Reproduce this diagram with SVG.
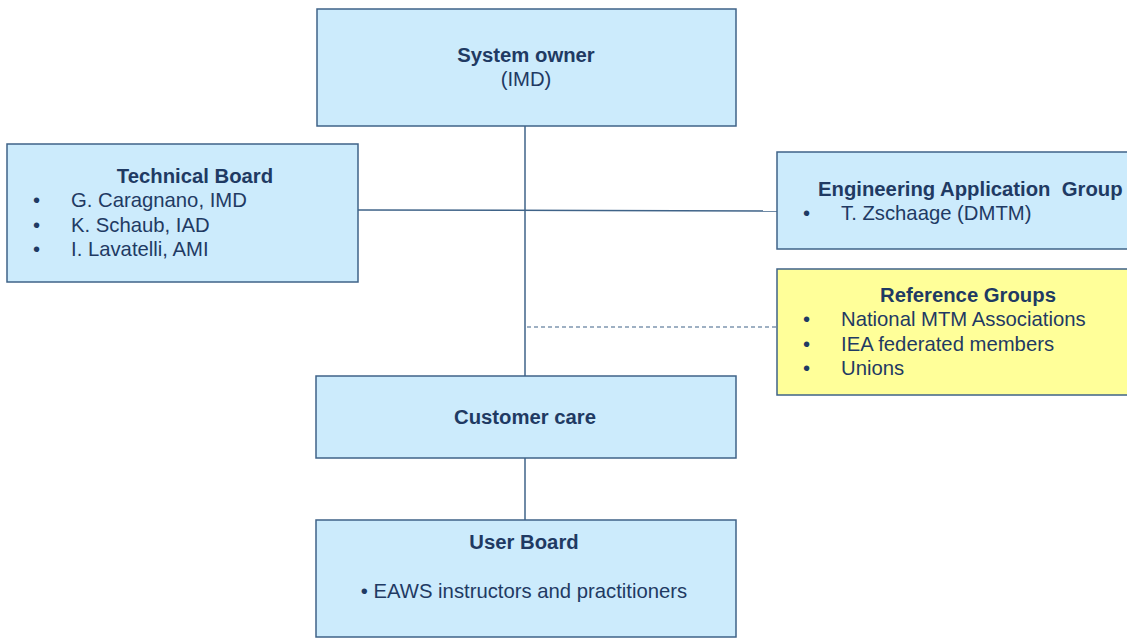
<svg xmlns="http://www.w3.org/2000/svg" width="1127" height="639" viewBox="0 0 1127 639">
<style>
.box{fill:#CCEBFC;stroke:#3F6388;stroke-width:1.5}
.yel{fill:#FFFF99;stroke:#3F6388;stroke-width:1.5}
.t{font-family:"Liberation Sans",Arial,sans-serif;font-size:20.3px;fill:#1F3A63}
.b{font-weight:bold}
.c{text-anchor:middle}
.ln{stroke:#3F6388;stroke-width:1.5;fill:none}
.dash{stroke:#3F6388;stroke-width:1.2;stroke-dasharray:4 3;fill:none}
</style>
<rect width="1127" height="639" fill="#ffffff"/>
<g id="connectors">
<line class="ln" x1="525" y1="126" x2="525" y2="376"/>
<line class="ln" x1="358" y1="210" x2="777" y2="211"/>
<line class="dash" x1="527" y1="327" x2="777" y2="327"/>
<line class="ln" x1="525" y1="458" x2="525" y2="520"/>
</g>
<g id="system-owner">
<rect class="box" x="317" y="9" width="419" height="117"/>
<text class="t b c" x="526" y="62">System owner</text>
<text class="t c" x="526" y="86">(IMD)</text>
</g>
<g id="technical-board">
<rect class="box" x="7" y="144" width="351" height="138"/>
<text class="t b c" x="195" y="183">Technical Board</text>
<text class="t" x="33" y="207">•</text><text class="t" x="71" y="207">G. Caragnano, IMD</text>
<text class="t" x="33" y="232">•</text><text class="t" x="71" y="232">K. Schaub, IAD</text>
<text class="t" x="33" y="256">•</text><text class="t" x="71" y="256">I. Lavatelli, AMI</text>
</g>
<g id="engineering-application-group">
<rect class="box" x="777" y="152" width="360" height="97"/>
<text class="t b" x="818" y="196" xml:space="preserve">Engineering Application  Group</text>
<text class="t" x="803" y="220">•</text><text class="t" x="841" y="220">T. Zschaage (DMTM)</text>
</g>
<g id="reference-groups">
<rect class="yel" x="777" y="269" width="360" height="126"/>
<text class="t b c" x="968" y="302">Reference Groups</text>
<text class="t" x="803" y="326">•</text><text class="t" x="841" y="326">National MTM Associations</text>
<text class="t" x="803" y="351">•</text><text class="t" x="841" y="351">IEA federated members</text>
<text class="t" x="803" y="375">•</text><text class="t" x="841" y="375">Unions</text>
</g>
<g id="customer-care">
<rect class="box" x="316" y="376" width="420" height="82"/>
<text class="t b c" x="525" y="424">Customer care</text>
</g>
<g id="user-board">
<rect class="box" x="316" y="520" width="420" height="117"/>
<text class="t b c" x="524" y="549">User Board</text>
<text class="t c" x="524" y="598">• EAWS instructors and practitioners</text>
</g>
</svg>
